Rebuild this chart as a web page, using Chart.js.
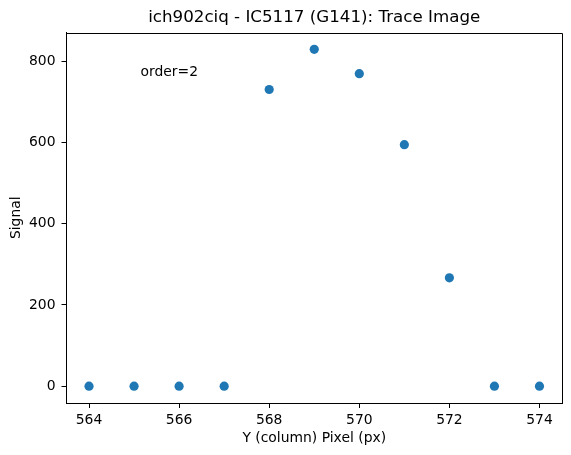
<!DOCTYPE html>
<html>
<head>
<meta charset="utf-8">
<script src="https://cdn.jsdelivr.net/npm/chart.js@4"></script>
<style>
  html, body { margin: 0; padding: 0; background: #fff; }
  #wrap { width: 571px; height: 455px; position: relative; }
</style>
</head>
<body>
<div id="wrap"><canvas id="traceChart"></canvas></div>
<script>
// dane
const pixelCols = [564, 565, 566, 567, 568, 569, 570, 571, 572, 573, 574];
const signalVals = [0, 0, 0, 0, 731, 830, 770, 595, 267, 0, 0];
const xTickVals = [564, 566, 568, 570, 572, 574];
const yTickVals = [0, 200, 400, 600, 800];
const chartTitle = 'ich902ciq - IC5117 (G141): Trace Image';
const xLabel = 'Y (column) Pixel (px)';
const yLabel = 'Signal';
const noteText = 'order=2';

const FONT = '"DejaVu Sans", sans-serif';

// zakresy jak w matplotlib (5% marginesu)
const xMin = Math.min(...pixelCols), xMax = Math.max(...pixelCols);
const yMin = Math.min(...signalVals), yMax = Math.max(...signalVals);
const xPad = (xMax - xMin) * 0.05, yPad = (yMax - yMin) * 0.05;

const points = pixelCols.map(function (c, i) { return { x: c, y: signalVals[i] }; });

// ramka, tytul, opisy osi
const textPlugin = {
    id: 'textPlugin',
    afterDraw: function (chart) {
        const ctx = chart.ctx;
        const a = chart.chartArea;
        ctx.save();
        ctx.strokeStyle = '#000';
        ctx.lineWidth = 1;
        ctx.beginPath();
        ctx.moveTo(Math.round(a.left), Math.round(a.top) + 0.5);
        ctx.lineTo(Math.round(a.right) + 0.5, Math.round(a.top) + 0.5);
        ctx.lineTo(Math.round(a.right) + 0.5, Math.round(a.bottom));
        ctx.stroke();
        ctx.fillStyle = '#000';
        ctx.textAlign = 'center';
        ctx.textBaseline = 'middle';
        ctx.font = '16.7px ' + FONT;
        ctx.fillText(chartTitle, (a.left + a.right) / 2, 17.5);
        ctx.font = '13.9px ' + FONT;
        ctx.fillText(xLabel, (a.left + a.right) / 2, 438);
        ctx.save();
        ctx.translate(16, (a.top + a.bottom) / 2);
        ctx.rotate(-Math.PI / 2);
        ctx.fillText(yLabel, 0, 0);
        ctx.restore();
        ctx.textAlign = 'left';
        ctx.fillText(noteText, a.left + 74, a.top + 40);
        ctx.restore();
    }
};

const ctx = document.getElementById('traceChart').getContext('2d');
const chart = new Chart(ctx, {
    type: 'scatter',
    data: {
        datasets: [{
            label: yLabel,
            data: points,
            backgroundColor: '#1f77b4',
            borderColor: '#1f77b4',
            pointRadius: 4.6,
            pointHoverRadius: 4.6,
            borderWidth: 0
        }]
    },
    options: {
        responsive: true,
        maintainAspectRatio: false,
        animation: false,
        devicePixelRatio: 1,
        layout: { padding: { left: 0, top: 32.5, right: 9, bottom: 0 } },
        plugins: {
            legend: { display: false },
            title: { display: false },
            tooltip: { enabled: false }
        },
        scales: {
            x: {
                type: 'linear',
                min: xMin - xPad,
                max: xMax + xPad,
                afterBuildTicks: function (s) { s.ticks = xTickVals.map(function (v) { return { value: v }; }); },
                afterFit: function (s) { s.height = 52; },
                grid: { drawOnChartArea: false, drawTicks: true, tickLength: 5, color: '#000', tickWidth: 1 },
                border: { display: true, color: '#000', width: 1 },
                ticks: { color: '#000', padding: 4, maxRotation: 0, font: { family: FONT, size: 13.9 } }
            },
            y: {
                type: 'linear',
                min: yMin - yPad,
                max: yMax + yPad,
                afterBuildTicks: function (s) { s.ticks = yTickVals.map(function (v) { return { value: v }; }); },
                afterFit: function (s) { s.width = 66.5; },
                grid: { drawOnChartArea: false, drawTicks: true, tickLength: 5, color: '#000', tickWidth: 1 },
                border: { display: true, color: '#000', width: 1 },
                ticks: { color: '#000', padding: 6, font: { family: FONT, size: 13.9 } }
            }
        }
    },
    plugins: [textPlugin]
});
</script>
</body>
</html>
